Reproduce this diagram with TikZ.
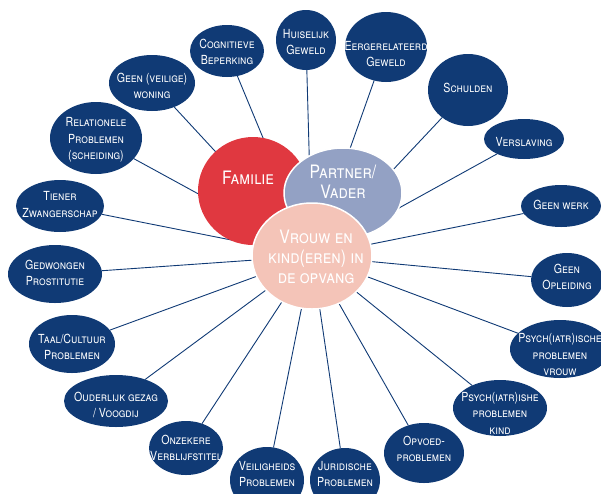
\documentclass[tikz,border=0pt]{standalone}
\usepackage{fontspec}
\setmainfont[FakeStretch=0.85]{TeX Gyre Heros}
\usetikzlibrary{shapes.geometric,backgrounds}
\definecolor{navy}{RGB}{16,58,117}
\definecolor{famred}{RGB}{224,56,64}
\definecolor{partblue}{RGB}{147,161,196}
\definecolor{vrpink}{RGB}{244,196,184}
\begin{document}
\begin{tikzpicture}[x=1pt,y=-1pt,
  bub/.style={ellipse,fill=navy,inner sep=0pt,outer sep=0pt},
  txt/.style={text=white,font=\fontsize{12.5}{16.5}\selectfont\scshape,align=center,inner sep=0pt},
  big/.style={text=white,font=\fontsize{18.5}{20}\selectfont\scshape,align=center,inner sep=0pt},
  hub/.style={ellipse,inner sep=0pt,outer sep=0pt},
  link/.style={draw=navy,line width=0.9pt}]
\useasboundingbox (0,0) rectangle (601,493);

% outer bubbles
\node[bub,minimum width=74pt,minimum height=52pt] (n1) at (227,51) {};
\node[txt] (t1) at (227,52) {Cognitieve\\Beperking};
\node[bub,minimum width=60pt,minimum height=60pt] (n2) at (306,40) {};
\node[txt] (t2) at (306,42) {Huiselijk\\Geweld};
\node[bub,minimum width=82pt,minimum height=70pt] (n3) at (386,47) {};
\node[txt] (t3) at (386,54) {Eergerelateerd\\Geweld};
\node[bub,minimum width=80pt,minimum height=72pt] (n4) at (468,90) {};
\node[txt] (t4) at (468,88) {Schulden};
\node[bub,minimum width=80pt,minimum height=40pt] (n5) at (524,139) {};
\node[txt] (t5) at (524,142) {Verslaving};
\node[bub,minimum width=80pt,minimum height=42pt] (n6) at (561,206) {};
\node[txt] (t6) at (561,205) {Geen werk};
\node[bub,minimum width=72pt,minimum height=54pt] (n7) at (567,280) {};
\node[txt] (t7) at (567,277) {Geen\\Opleiding};
\node[bub,minimum width=100pt,minimum height=58pt] (n8) at (560,349) {};
\node[txt] (t8) at (560,355) {Psych(iatr)ische\\problemen\\vrouw};
\node[bub,minimum width=94pt,minimum height=56pt] (n9) at (500,408) {};
\node[txt] (t9) at (500,413) {Psych(iatr)ishe\\problemen\\kind};
\node[bub,minimum width=80pt,minimum height=60pt] (n10) at (424,453) {};
\node[txt] (t10) at (424,449) {Opvoed-\\problemen};
\node[bub,minimum width=70pt,minimum height=64pt] (n11) at (345,480) {};
\node[txt] (t11) at (345,474) {Juridische\\Problemen};
\node[bub,minimum width=74pt,minimum height=66pt] (n12) at (267,480) {};
\node[txt] (t12) at (267,474) {Veiligheids\\Problemen};
\node[bub,minimum width=74pt,minimum height=54pt] (n13) at (186,448) {};
\node[txt] (t13) at (186,448) {Onzekere\\Verblijfstitel};
\node[bub,minimum width=104pt,minimum height=52pt] (n14) at (116,401) {};
\node[txt] (t14) at (116,405) {Ouderlijk gezag\\/ Voogdij};
\node[bub,minimum width=86pt,minimum height=58pt] (n15) at (72,344) {};
\node[txt] (t15) at (72,347) {Taal/Cultuur\\Problemen};
\node[bub,minimum width=94pt,minimum height=58pt] (n16) at (55,274) {};
\node[txt] (t16) at (55,273) {Gedwongen\\Prostitutie};
\node[bub,minimum width=88pt,minimum height=52pt] (n17) at (60,206) {};
\node[txt] (t17) at (60,204.5) {Tiener\\Zwangerschap};
\node[bub,minimum width=92pt,minimum height=72pt] (n18) at (96,138) {};
\node[txt] (t18) at (96,140) {Relationele\\Problemen\\(scheiding)};
\node[bub,minimum width=86pt,minimum height=56pt] (n19) at (152,83) {};
\node[txt] (t19) at (152,86) {Geen (veilige)\\woning};

% central circles
\node[hub,fill=famred,minimum width=110pt,minimum height=108pt] (fam) at (253,191) {};
\node[big] (famt) at (248,178) {Familie};
\node[hub,fill=partblue,draw=white,line width=1.5pt,minimum width=118pt,minimum height=90pt] (par) at (343,193) {};
\node[big] (part) at (343,182) {Partner/\\Vader};
\node[hub,fill=vrpink,draw=white,line width=1.5pt,minimum width=120pt,minimum height=106pt] (vrw) at (312,256) {};
\node[big] (vrwt) at (316,257) {Vrouw en\\kind(eren) in\\de opvang};

\begin{pgfonlayer}{background}
\foreach \n in {n1,n2,n3,n4,n5,n6,n7,n8,n9,n10,n11,n12,n13,n14,n15,n16,n17,n18,n19}
  \draw[link] (\n) -- (vrw.center);
\end{pgfonlayer}
\end{tikzpicture}
\end{document}
